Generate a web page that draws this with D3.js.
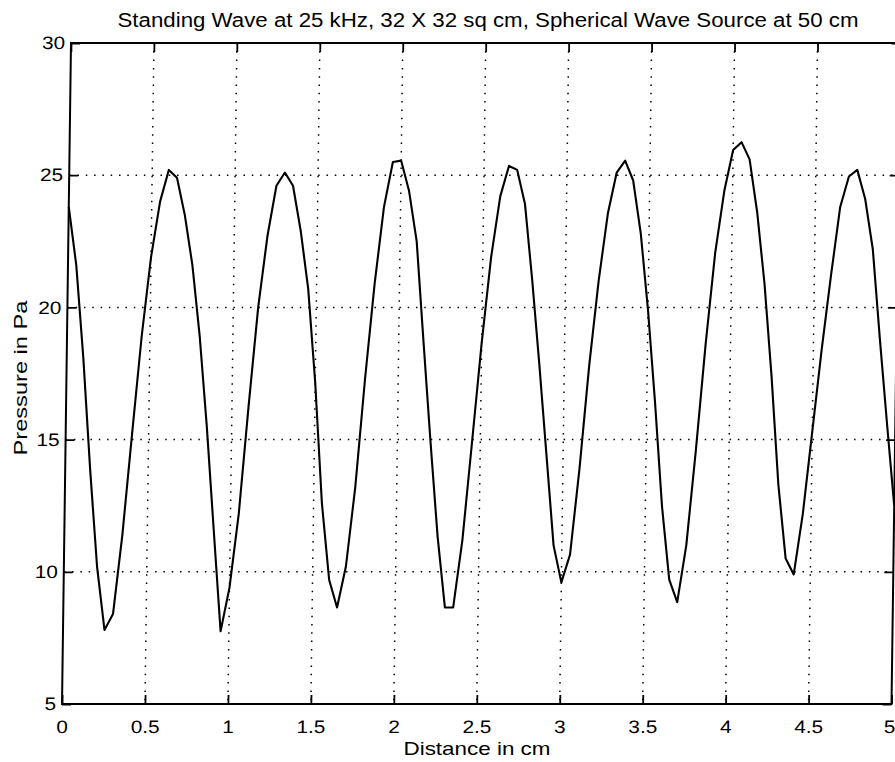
<!DOCTYPE html>
<html>
<head>
<meta charset="utf-8">
<script src="https://cdn.jsdelivr.net/npm/d3@7"></script>
<style>
  html, body { margin: 0; padding: 0; background: #fff; }
  svg { display: block; }
  text { font-family: "Liberation Sans", Arial, Helvetica, sans-serif; fill: #000; }
</style>
</head>
<body>
<svg id="chart" width="895" height="762"></svg>
<script>
// ---- Data ----
const titleText = "Standing Wave at 25 kHz, 32 X 32 sq cm, Spherical Wave Source at 50 cm";
const xLabelText = "Distance in cm";
const yLabelText = "Pressure in Pa";

// sample positions: 0 to 5 cm in 0.05 cm steps
const xStep = 0.05;
const pressure = [
  23.8, 21.6, 18.1, 13.9, 10.2, 7.8, 8.4, 11.4, 15.2, 18.9,
  21.9, 24.0, 25.2, 24.9, 23.5, 21.6, 18.9, 15.5, 11.6, 7.75,
  9.4, 12.2, 16.25, 20.0, 22.7, 24.6, 25.1, 24.6, 22.9, 20.7,
  17.15, 12.6, 9.7, 8.65, 10.2, 13.2, 17.3, 20.9, 23.8, 25.5,
  25.55, 24.4, 22.5, 18.65, 14.9, 11.35, 8.65, 8.65, 11.2, 14.9,
  18.65, 21.9, 24.2, 25.35, 25.2, 23.9, 21.0, 17.8, 14.4, 11.0,
  9.6, 10.65, 13.9, 17.8, 21.0, 23.55, 25.1, 25.55, 24.8, 22.8,
  19.9, 16.4, 12.5, 9.7, 8.85, 11.0, 14.6, 18.6, 22.05, 24.4,
  25.95, 26.25, 25.6, 23.6, 20.9, 17.4, 13.3, 10.5, 9.9, 12.2,
  15.3, 18.4, 21.2, 23.8, 24.95, 25.2, 24.1, 22.2, 18.8, 15.6,
  12.5
];
const xTicks = [0, 0.5, 1, 1.5, 2, 2.5, 3, 3.5, 4, 4.5, 5];
const xTickLabels = ["0", "0.5", "1", "1.5", "2", "2.5", "3", "3.5", "4", "4.5", "5"];
const yTicks = [5, 10, 15, 20, 25, 30];
const yTickLabels = ["5", "10", "15", "20", "25", "30"];

(function () {
const points = pressure.map((v, i) => ({ x: i * xStep, y: v }));

// ---- Layout ----
const svg = d3.select("#chart");
const pL = 62, pR = 891.5, pT = 43, pB = 704;
const x = d3.scaleLinear().domain([0, 5]).range([pL, pR]);
const y = d3.scaleLinear().domain([5, 30]).range([pB, pT]);
const stretch = 1.15;

// the scanned original leans slightly: the top edge sits ~9px right of the bottom edge
const lean = 9 / (pB - pT);
const plot = svg.append("g")
  .attr("transform", `translate(${lean * pB},0) skewX(${-Math.atan(lean) * 180 / Math.PI})`);

function stretchText(sel) {
  sel.each(function () {
    const w = this.getComputedTextLength();
    d3.select(this).attr("textLength", w * stretch).attr("lengthAdjust", "spacingAndGlyphs");
  });
}

// grid (dotted)
const grid = plot.append("g").attr("stroke", "#000").attr("stroke-width", 1.5)
  .attr("stroke-dasharray", "1.5,6.8");
grid.selectAll("line.vx").data(xTicks.slice(1, -1)).join("line")
  .attr("x1", d => x(d)).attr("x2", d => x(d)).attr("y1", pT).attr("y2", pB);
grid.selectAll("line.hy").data(yTicks.slice(1, -1)).join("line")
  .attr("x1", pL).attr("x2", pR).attr("y1", d => y(d)).attr("y2", d => y(d));

// axes with inward ticks on all sides
const tickLen = 9;
const axBottom = d3.axisBottom(x).tickValues(xTicks).tickSize(-tickLen).tickPadding(16)
  .tickFormat((d, i) => xTickLabels[i]);
const axTop = d3.axisTop(x).tickValues(xTicks).tickSize(-tickLen).tickFormat("");
const axLeft = d3.axisLeft(y).tickValues(yTicks).tickSize(-tickLen).tickPadding(6)
  .tickFormat((d, i) => yTickLabels[i]);
const axRight = d3.axisRight(y).tickValues(yTicks).tickSize(-tickLen).tickFormat("");

function styleAxis(g) {
  g.select(".domain").remove();
  g.selectAll(".tick line").attr("stroke", "#000").attr("stroke-width", 1.8);
  g.selectAll(".tick text").attr("font-size", 18).attr("fill", "#000")
    .attr("font-family", "'Liberation Sans', Arial, sans-serif");
}
const gB = plot.append("g").attr("transform", `translate(0,${pB})`).call(axBottom).call(styleAxis);
gB.selectAll(".tick text").attr("dy", "0.71em").call(stretchText);
gB.selectAll(".tick text").filter((d, i) => i === xTicks.length - 1).attr("dx", -2);
plot.append("g").attr("transform", `translate(0,${pT})`).call(axTop).call(styleAxis);
const gL = plot.append("g").attr("transform", `translate(${pL},0)`).call(axLeft).call(styleAxis);
gL.selectAll(".tick text").call(stretchText);
plot.append("g").attr("transform", `translate(${pR},0)`).call(axRight).call(styleAxis);

// frame
plot.append("rect").attr("x", pL).attr("y", pT).attr("width", pR - pL).attr("height", pB - pT)
  .attr("fill", "none").attr("stroke", "#000").attr("stroke-width", 2);

// curve
const line = d3.line().x(d => x(d.x)).y(d => y(d.y));
plot.append("path").datum(points).attr("d", line)
  .attr("fill", "none").attr("stroke", "#000").attr("stroke-width", 2.1).attr("stroke-linejoin", "round");

// title
svg.append("text").attr("x", 488).attr("y", 27).attr("text-anchor", "middle")
  .attr("font-size", 20).text(titleText)
  .attr("textLength", 741).attr("lengthAdjust", "spacingAndGlyphs");

// x label
svg.append("text").attr("x", 477).attr("y", 755).attr("text-anchor", "middle")
  .attr("font-size", 19).text(xLabelText)
  .attr("textLength", 147).attr("lengthAdjust", "spacingAndGlyphs");

// y label
svg.append("text").attr("transform", "translate(27,378) rotate(-90)").attr("text-anchor", "middle")
  .attr("font-size", 19).text(yLabelText)
  .attr("textLength", 155).attr("lengthAdjust", "spacingAndGlyphs");
})();
</script>
</body>
</html>
